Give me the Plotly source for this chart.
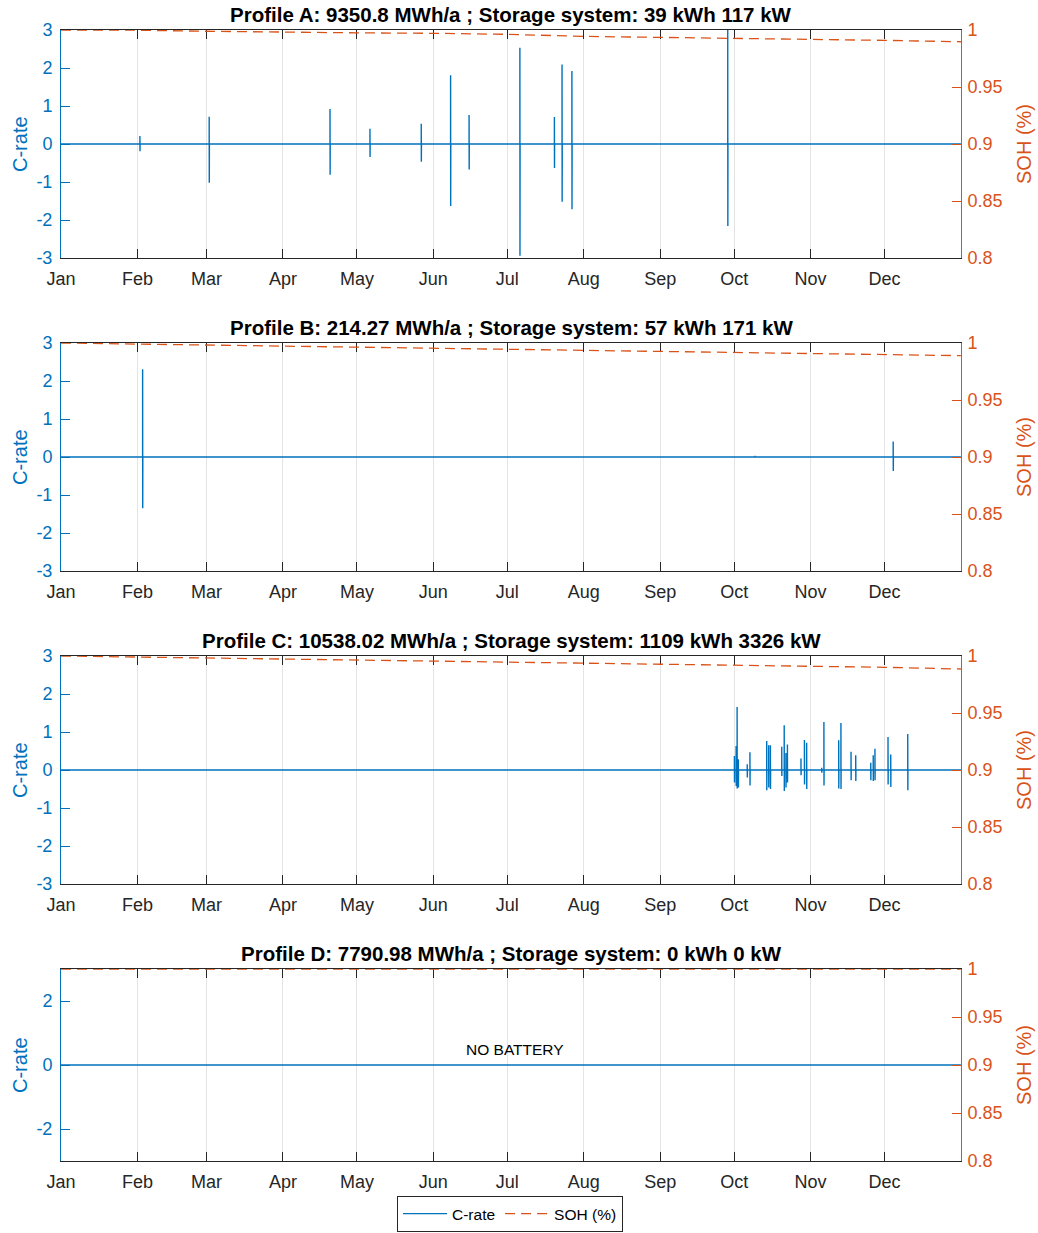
import pandas as pd
import plotly.graph_objects as go

# ---------------------------------------------------------------- data
YEAR_START = "2019-01-01"
YEAR_END = "2019-12-31 23:00"
MONTH_STARTS = ["2019-%02d-01" % m for m in range(1, 13)]
MONTH_LABELS = ["Jan", "Feb", "Mar", "Apr", "May", "Jun",
                "Jul", "Aug", "Sep", "Oct", "Nov", "Dec"]
SOH_DATES = MONTH_STARTS + ["2019-12-31 23:00"]

TITLES = [
    "Profile A: 9350.8 MWh/a ; Storage system: 39 kWh 117 kW",
    "Profile B: 214.27 MWh/a ; Storage system: 57 kWh 171 kW",
    "Profile C: 10538.02 MWh/a ; Storage system: 1109 kWh 3326 kW",
    "Profile D: 7790.98 MWh/a ; Storage system: 0 kWh 0 kW",
]

# battery events: day of year, peak charge C-rate, peak discharge C-rate
A_EVENT_DAY = [32.0, 60.1, 109.1, 125.3, 146.1, 158.0, 165.5, 186.1,
               200.1, 203.2, 207.2, 270.4]
A_CHARGE = [0.21, 0.72, 0.92, 0.40, 0.53, 1.81, 0.76, 2.53, 0.71, 2.09, 1.92, 3.0]
A_DISCHARGE = [-0.19, -1.02, -0.81, -0.34, -0.47, -1.63, -0.67, -2.94,
               -0.63, -1.52, -1.72, -2.16]

B_EVENT_DAY = [33.1, 281.5, 337.5]
B_CHARGE = [2.31, 0.03, 0.41]
B_DISCHARGE = [-1.35, -0.02, -0.37]

C_EVENT_DAY = [273.1, 273.8, 274.2, 274.7, 278.3, 279.4, 286.2, 287.0, 287.7,
               292.3, 293.3, 294.0, 294.6, 300.1, 301.5, 302.4, 308.5, 309.4,
               315.4, 316.3, 320.4, 322.3, 328.4, 329.4, 330.1, 335.4, 336.5,
               343.4]
C_CHARGE = [0.37, 0.63, 1.66, 0.28, 0.15, 0.47, 0.76, 0.65, 0.65, 0.61, 1.18,
            0.45, 0.67, 0.30, 0.79, 0.72, 0.06, 1.26, 0.78, 1.24, 0.48, 0.39,
            0.19, 0.39, 0.56, 0.87, 0.41, 0.95]
C_DISCHARGE = [-0.33, -0.42, -0.49, -0.46, -0.20, -0.41, -0.53, -0.46, -0.50,
               -0.16, -0.55, -0.46, -0.33, -0.14, -0.38, -0.50, -0.07, -0.41,
               -0.49, -0.50, -0.27, -0.29, -0.27, -0.29, -0.27, -0.38, -0.45,
               -0.53]

D_EVENT_DAY = []
D_CHARGE = []
D_DISCHARGE = []

# state of health at month starts (and year end)
A_SOH = [1.0, 0.9998, 0.9989, 0.9980, 0.9975, 0.9971, 0.9962, 0.9944,
         0.9936, 0.9927, 0.9918, 0.9909, 0.9897]
B_SOH = [1.0, 0.9991, 0.9981, 0.9972, 0.9963, 0.9954, 0.9945, 0.9936,
         0.9927, 0.9918, 0.9909, 0.9900, 0.9889]
C_SOH = [1.0, 0.9991, 0.9986, 0.9972, 0.9965, 0.9957, 0.9949, 0.9941,
         0.9933, 0.9925, 0.9910, 0.9901, 0.9886]
D_SOH = [1.0] * 13

# ---------------------------------------------------------------- styling
BLUE = "#0072BD"
ORANGE = "#D95319"
DARK = "#262626"
GRID = "#e4e4e4"
FONT = "Liberation Sans, Arial, Helvetica, sans-serif"
W, H = 1038, 1233

X_L, X_R = 61, 961
PANELS_PX = [(30, 258), (343, 571), (656, 884), (969, 1161)]

TICK_SIZE = 18
LABEL_SIZE = 20
TITLE_SIZE = 20.5


def py(px):
    return 1 - px / H


def crate_series(days, charge, discharge):
    t0 = pd.Timestamp(YEAR_START)
    hour = pd.Timedelta(hours=1)
    xs, ys = [t0], [0.0]
    for d, c, dc in sorted(zip(days, charge, discharge)):
        t = t0 + pd.Timedelta(days=d)
        xs += [t, t, t + hour, t + 2 * hour]
        ys += [0.0, c, dc, 0.0]
    xs.append(pd.Timestamp(YEAR_END))
    ys.append(0.0)
    return xs, ys


profiles = [
    (A_EVENT_DAY, A_CHARGE, A_DISCHARGE, A_SOH),
    (B_EVENT_DAY, B_CHARGE, B_DISCHARGE, B_SOH),
    (C_EVENT_DAY, C_CHARGE, C_DISCHARGE, C_SOH),
    (D_EVENT_DAY, D_CHARGE, D_DISCHARGE, D_SOH),
]
soh_x = pd.to_datetime(SOH_DATES, format="ISO8601")

fig = go.Figure()
layout = dict(
    width=W, height=H,
    margin=dict(l=0, r=0, t=0, b=0, autoexpand=False),
    paper_bgcolor="white", plot_bgcolor="white",
    font=dict(family=FONT, size=TICK_SIZE, color=DARK),
    showlegend=True,
    legend=dict(
        orientation="h", x=510 / W, xanchor="center",
        y=py(1232), yanchor="bottom",
        bordercolor=DARK, borderwidth=1, bgcolor="white",
        font=dict(size=15.5, color="black"),
        itemwidth=44, tracegroupgap=0,
    ),
)
annotations = []

for i, (days, chg, dis, soh) in enumerate(profiles):
    n = i + 1
    xname = "x" if n == 1 else "x%d" % n
    yl = 2 * n - 1
    yr = 2 * n
    ylname = "y" if yl == 1 else "y%d" % yl
    yrname = "y%d" % yr
    top_px, bot_px = PANELS_PX[i]

    xs, ys = crate_series(days, chg, dis)
    fig.add_trace(go.Scatter(
        x=xs, y=ys, mode="lines", name="C-rate",
        line=dict(color=BLUE, width=1.4),
        xaxis=xname, yaxis=ylname, showlegend=(i == 0),
        legendrank=1,
    ))
    fig.add_trace(go.Scatter(
        x=soh_x, y=soh, mode="lines", name="SOH (%)",
        line=dict(color=ORANGE, width=1.3, dash="10px,6px"),
        xaxis=xname, yaxis=yrname, showlegend=(i == 0),
        legendrank=2,
    ))

    xkey = "xaxis" if n == 1 else "xaxis%d" % n
    layout[xkey] = dict(
        domain=[X_L / W, X_R / W], anchor=ylname, type="date",
        range=[YEAR_START, "2020-01-01"], automargin=False,
        tickvals=MONTH_STARTS, ticktext=MONTH_LABELS,
        ticks="inside", ticklen=9, tickwidth=1, tickcolor=DARK,
        ticklabelstandoff=4, layer="below traces",
        showline=True, linecolor=DARK, linewidth=1, mirror="ticks",
        showgrid=True, gridcolor=GRID, gridwidth=1,
        zeroline=False, tickfont=dict(size=TICK_SIZE, color=DARK),
    )
    ylkey = "yaxis" if yl == 1 else "yaxis%d" % yl
    if n == 4:
        lt = dict(tickvals=[-2, 0, 2], ticktext=["-2", "0", "2"])
    else:
        lt = dict(tickvals=[-3, -2, -1, 0, 1, 2, 3],
                  ticktext=["-3", "-2", "-1", "0", "1", "2", "3"])
    layout[ylkey] = dict(
        domain=[py(bot_px), py(top_px)], anchor=xname, range=[-3, 3],
        automargin=False,
        ticks="inside", ticklen=9, tickcolor=BLUE, ticklabelstandoff=4,
        showline=True, linecolor=BLUE, linewidth=1,
        showgrid=False, zeroline=False,
        tickfont=dict(size=TICK_SIZE, color=BLUE), **lt,
    )
    layout["yaxis%d" % yr] = dict(
        domain=[py(bot_px), py(top_px)], anchor=xname, overlaying=ylname,
        side="right", range=[0.8, 1.0], automargin=False,
        tickvals=[0.8, 0.85, 0.9, 0.95, 1.0],
        ticktext=["0.8", "0.85", "0.9", "0.95", "1"],
        ticks="inside", ticklen=9, tickcolor=ORANGE, ticklabelstandoff=2,
        showline=True, linecolor=ORANGE, linewidth=1,
        showgrid=False, zeroline=False,
        tickfont=dict(size=TICK_SIZE, color=ORANGE),
    )

    mid_y = py((top_px + bot_px) / 2)
    annotations.append(dict(
        text="<b>%s</b>" % TITLES[i], xref="paper", yref="paper",
        x=(X_L + X_R) / 2 / W, y=py(top_px - 2), xanchor="center",
        yanchor="bottom", showarrow=False,
        font=dict(size=TITLE_SIZE, color="black", family=FONT),
    ))
    annotations.append(dict(
        text="C-rate", xref="paper", yref="paper", x=20 / W, y=mid_y,
        xanchor="center", yanchor="middle", textangle=-90, showarrow=False,
        font=dict(size=LABEL_SIZE, color=BLUE, family=FONT),
    ))
    annotations.append(dict(
        text="SOH (%)", xref="paper", yref="paper", x=1024 / W, y=mid_y,
        xanchor="center", yanchor="middle", textangle=-90, showarrow=False,
        font=dict(size=LABEL_SIZE, color=ORANGE, family=FONT),
    ))

annotations.append(dict(
    text="NO BATTERY", xref="x4", yref="y7", x="2019-07-04", y=0.5,
    xanchor="center", yanchor="middle", showarrow=False,
    font=dict(size=15.5, color="black", family=FONT),
))
layout["annotations"] = annotations
fig.update_layout(**layout)
fig.write_html("out.html")
